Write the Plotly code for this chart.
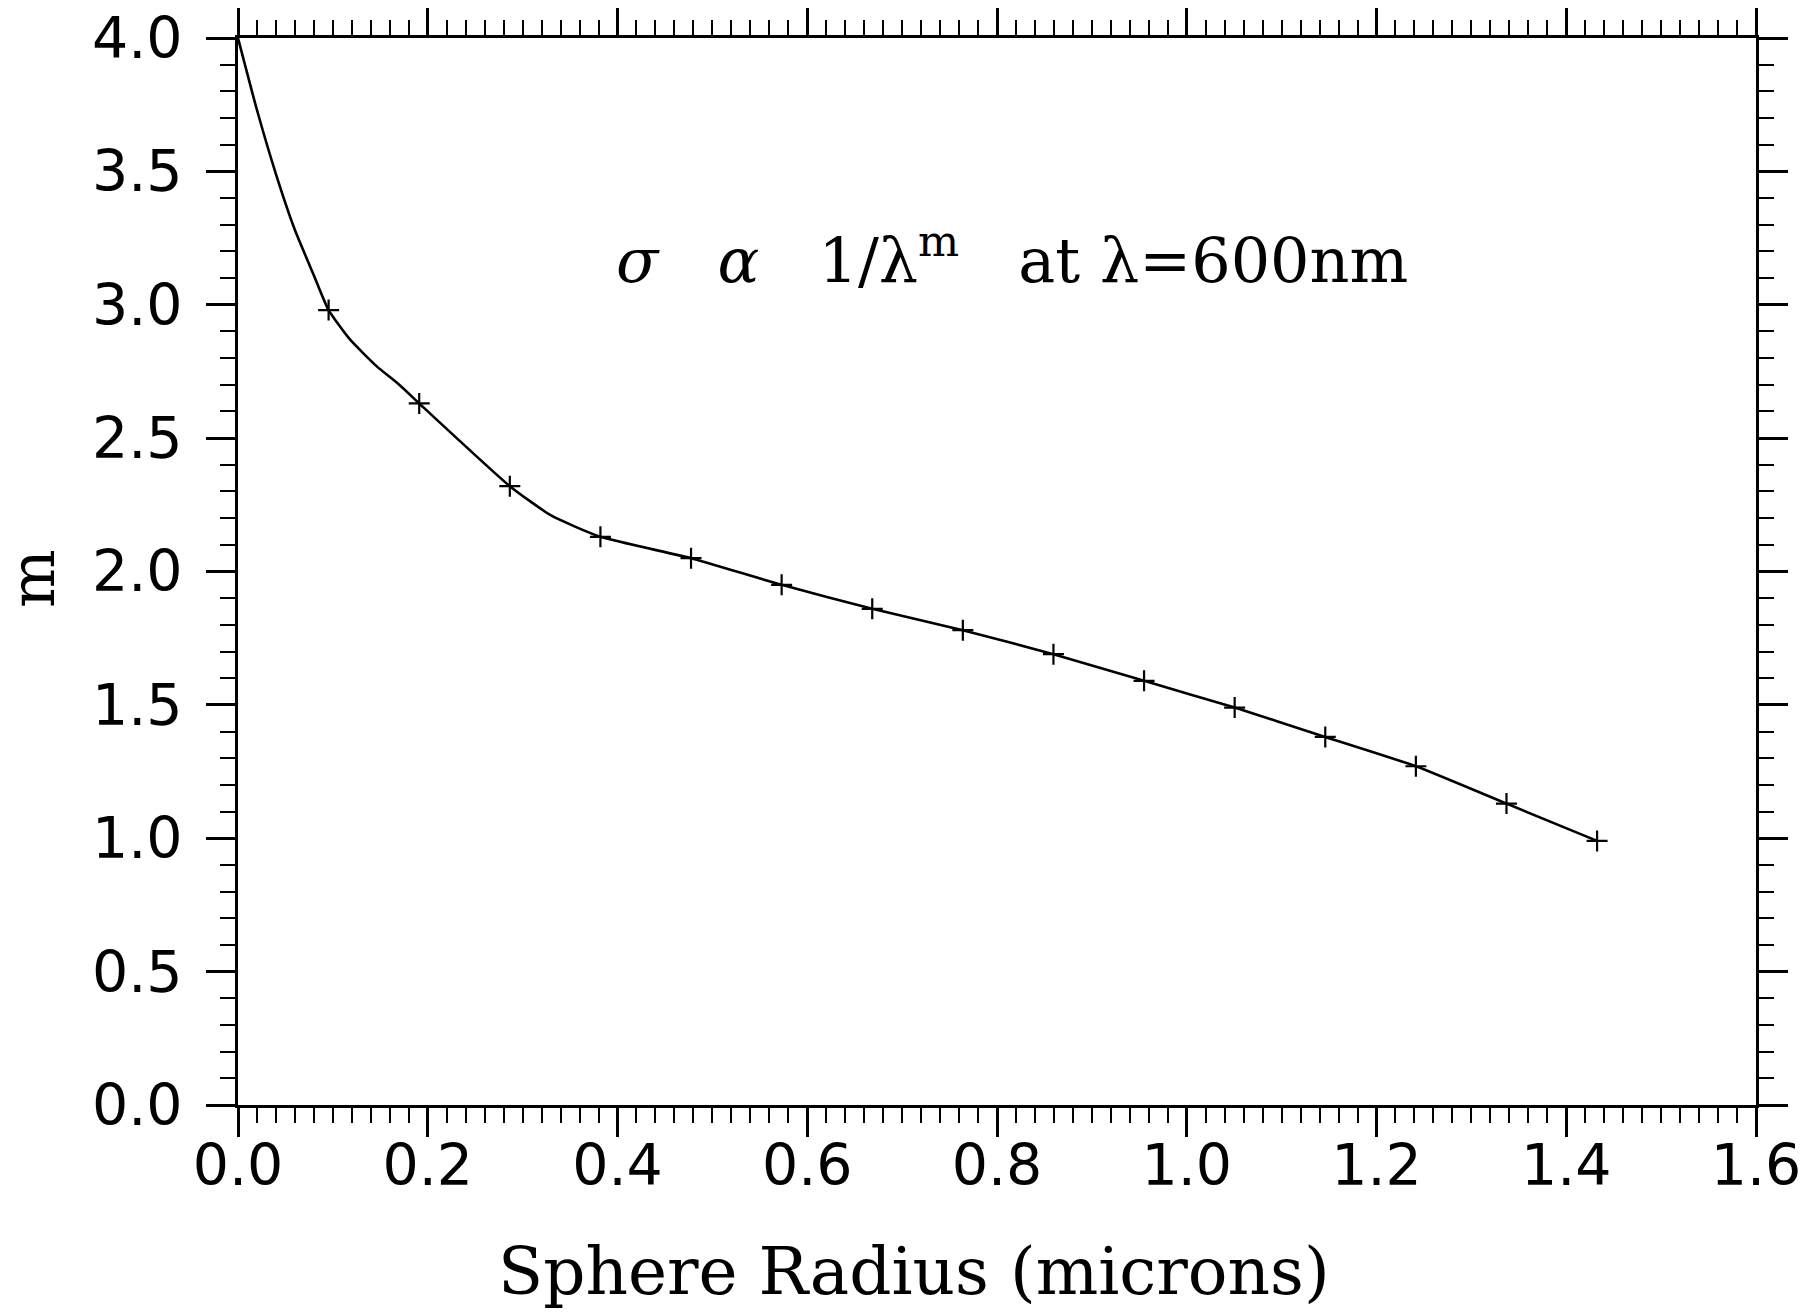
import plotly.graph_objects as go

# size parameter steps 2*pi*r/lambda = 1..15 at lambda = 600 nm (radius in microns)
marker_radius = [0.0955, 0.191, 0.2865, 0.382, 0.4775, 0.573, 0.6685, 0.764,
                 0.8595, 0.955, 1.0505, 1.146, 1.2415, 1.337, 1.4325]
marker_m = [2.98, 2.63, 2.32, 2.13, 2.05, 1.95, 1.86, 1.78,
            1.69, 1.59, 1.49, 1.38, 1.27, 1.13, 0.99]

# curve (includes the start at r=0 and points between markers)
curve_radius = [0.0, 0.02, 0.04, 0.06, 0.08, 0.0955, 0.118, 0.146,
                0.170, 0.191, 0.2865, 0.33, 0.382, 0.4775, 0.573, 0.6685, 0.764,
                0.8595, 0.955, 1.0505, 1.146, 1.2415, 1.337, 1.4325]
curve_m = [4.0, 3.73, 3.49, 3.28, 3.11, 2.98, 2.87, 2.77,
           2.70, 2.63, 2.32, 2.21, 2.13, 2.05, 1.95, 1.86, 1.78,
           1.69, 1.59, 1.49, 1.38, 1.27, 1.13, 0.99]

x_ticks = [0.0, 0.2, 0.4, 0.6, 0.8, 1.0, 1.2, 1.4, 1.6]
x_labels = ["0.0", "0.2", "0.4", "0.6", "0.8", "1.0", "1.2", "1.4", "1.6"]
y_ticks = [0.0, 0.5, 1.0, 1.5, 2.0, 2.5, 3.0, 3.5, 4.0]
y_labels = ["0.0", "0.5", "1.0", "1.5", "2.0", "2.5", "3.0", "3.5", "4.0"]

fig = go.Figure()
fig.add_trace(go.Scatter(x=curve_radius, y=curve_m, mode="lines",
                         line=dict(color="black", width=2.6, shape="spline", smoothing=0.5),
                         hoverinfo="skip", showlegend=False))
fig.add_trace(go.Scatter(x=marker_radius, y=marker_m, mode="markers",
                         marker=dict(symbol="cross-thin", size=15, color="black",
                                     line=dict(color="black", width=2.2)),
                         showlegend=False))

tick_font = dict(family="DejaVu Sans", size=57, color="black")
serif_font = dict(family="DejaVu Serif", size=62, color="black")

fig.update_xaxes(range=[0, 1.6], tickvals=x_ticks, ticktext=x_labels,
                 showline=True, linecolor="black", linewidth=3, mirror="allticks",
                 ticks="outside", ticklen=29, tickwidth=2.6, tickcolor="black",
                 minor=dict(dtick=0.02, tick0=0, ticks="outside", ticklen=15,
                            tickwidth=2.2, tickcolor="black", showgrid=False),
                 showgrid=False, zeroline=False, tickfont=tick_font,
                 ticklabelstandoff=-20, automargin=False, ticklabeloverflow="allow")
fig.update_yaxes(range=[0, 4.0], tickvals=y_ticks, ticktext=y_labels,
                 showline=True, linecolor="black", linewidth=3, mirror="allticks",
                 ticks="outside", ticklen=29, tickwidth=2.6, tickcolor="black",
                 minor=dict(dtick=0.1, tick0=0, ticks="outside", ticklen=15,
                            tickwidth=2.2, tickcolor="black", showgrid=False),
                 showgrid=False, zeroline=False, tickfont=tick_font,
                 ticklabelstandoff=12, automargin=False, ticklabeloverflow="allow")

fig.add_annotation(x=0.445, y=-0.156, xref="paper", yref="paper",
                   text="Sphere Radius (microns)", showarrow=False,
                   font=dict(family="DejaVu Serif", size=66, color="black"),
                   xanchor="center", yanchor="middle")
fig.add_annotation(x=-0.135, y=0.493, xref="paper", yref="paper",
                   text="m", showarrow=False, textangle=-90,
                   font=serif_font, xanchor="center", yanchor="middle")
fig.add_annotation(x=0.396, y=3.18, xref="x", yref="y",
                   text="<i>σ</i>   <i>α</i>   1/λ<sup>m</sup>   at λ=600nm", showarrow=False,
                   font=serif_font, xanchor="left", yanchor="middle")

fig.update_layout(width=1812, height=1312,
                  margin=dict(l=230, r=64, t=30, b=215, autoexpand=False),
                  paper_bgcolor="white", plot_bgcolor="white")

fig.write_html("out.html")
